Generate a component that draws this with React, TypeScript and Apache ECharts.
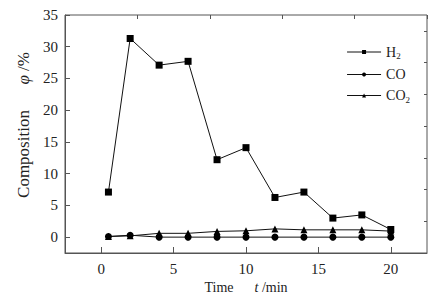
import React, { useEffect, useRef } from "react";
import * as echarts from "echarts";

const times = [0.5, 2, 4, 6, 8, 10, 12, 14, 16, 18, 20];
const h2 = [7.1, 31.3, 27.1, 27.7, 12.2, 14.1, 6.25, 7.1, 3.0, 3.5, 1.2];
const co = [0.1, 0.3, 0.0, 0.0, 0.0, 0.0, 0.0, 0.0, 0.0, 0.0, 0.0];
const co2 = [0.1, 0.2, 0.6, 0.6, 0.9, 1.0, 1.3, 1.15, 1.15, 1.15, 0.95];
const xMajor = [0, 5, 10, 15, 20];
const xMinor = [-2.5, 2.5, 7.5, 12.5, 17.5, 22.5];
const yMajor = [0, 5, 10, 15, 20, 25, 30, 35];
const yMinor = [-2.5, 2.5, 7.5, 12.5, 17.5, 22.5, 27.5, 32.5];
const seriesNames = ["H2", "CO", "CO2"];
const legendLabels: Record<string, string> = { H2: "H{sub|2}", CO: "CO", CO2: "CO{sub|2}" };

const FONT = "'Liberation Serif', 'Times New Roman', serif";
const AXIS = "#555";
const TXT = "#222";

export default function App() {
  const ref = useRef<HTMLDivElement>(null);
  useEffect(() => {
    if (!ref.current) return;
    const chart = echarts.init(ref.current, undefined, { renderer: "svg" });
    const pair = (vals: number[]) => times.map((t, i) => [t, vals[i]]);
    const baseX = { type: "value", min: -2.5, max: 22.5, gridIndex: 0 };
    const baseY = { type: "value", min: -2.5, max: 35, gridIndex: 0 };
    chart.setOption({
      animation: false,
      backgroundColor: "#fff",
      textStyle: { fontFamily: FONT },
      grid: { left: 65, right: 10, top: 15, bottom: 47, show: true, borderColor: AXIS, borderWidth: 1, backgroundColor: "transparent" },
      legend: {
        orient: "vertical",
        right: 22,
        top: 40,
        itemWidth: 34,
        itemHeight: 5,
        itemGap: 7,
        data: seriesNames,
        lineStyle: { width: 1 },
        formatter: (n: string) => legendLabels[n],
        textStyle: {
          fontFamily: FONT,
          fontSize: 14,
          color: TXT,
          rich: { sub: { fontSize: 9, fontFamily: FONT, color: TXT, padding: [8, 0, 0, 0] } },
        },
      },
      xAxis: [
        {
          ...baseX,
          name: "Time      {i|t} /min",
          nameLocation: "middle",
          nameGap: 21,
          nameTextStyle: { fontFamily: FONT, fontSize: 14, color: TXT, rich: { i: { fontStyle: "italic", fontFamily: FONT, fontSize: 14, color: TXT } } },
          axisLine: { show: true, onZero: false, lineStyle: { color: AXIS } },
          axisTick: { show: true, inside: true, length: 6, lineStyle: { color: AXIS }, customValues: xMajor },
          axisLabel: { color: TXT, fontSize: 15, fontFamily: FONT, margin: 8, customValues: xMajor },
          splitLine: { show: false },
        },
        {
          ...baseX,
          axisLine: { show: false, onZero: false },
          axisTick: { show: true, inside: true, length: 4, lineStyle: { color: AXIS }, customValues: xMinor },
          axisLabel: { show: false },
          splitLine: { show: false },
        },
      ],
      yAxis: [
        {
          ...baseY,
          name: "{p|}Composition      {i|φ} /%",
          nameLocation: "middle",
          nameGap: 32,
          nameTextStyle: {
            fontFamily: FONT,
            fontSize: 17,
            color: TXT,
            rich: {
              i: { fontStyle: "italic", fontFamily: FONT, fontSize: 17, color: TXT },
              p: { width: 18, fontSize: 17 },
            },
          },
          axisLine: { show: true, onZero: false, lineStyle: { color: AXIS } },
          axisTick: { show: true, inside: true, length: 5, lineStyle: { color: AXIS }, customValues: yMajor },
          axisLabel: { color: TXT, fontSize: 15, fontFamily: FONT, margin: 7, customValues: yMajor },
          splitLine: { show: false },
        },
        {
          ...baseY,
          axisLine: { show: false, onZero: false },
          axisTick: { show: true, inside: true, length: 3, lineStyle: { color: AXIS }, customValues: yMinor },
          axisLabel: { show: false },
          splitLine: { show: false },
        },
      ],
      series: [
        { name: "H2", type: "line", data: pair(h2), symbol: "rect", symbolSize: 7, lineStyle: { color: "#111", width: 1 }, itemStyle: { color: "#000" } },
        { name: "CO", type: "line", data: pair(co), symbol: "circle", symbolSize: 7, lineStyle: { color: "#111", width: 1 }, itemStyle: { color: "#000" } },
        { name: "CO2", type: "line", data: pair(co2), symbol: "triangle", symbolSize: 7, lineStyle: { color: "#111", width: 1 }, itemStyle: { color: "#000" } },
      ],
    });
    return () => chart.dispose();
  }, []);
  return <div ref={ref} style={{ width: 437, height: 300, position: "absolute", left: 0, top: 0 }} />;
}
